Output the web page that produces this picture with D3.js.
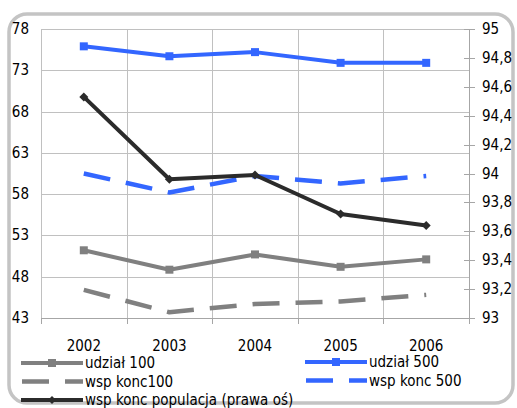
<!DOCTYPE html>
<html>
<head>
<meta charset="utf-8">
<script src="https://cdn.jsdelivr.net/npm/d3@7"></script>
<style>
  html, body { margin: 0; padding: 0; background: #fff; }
  svg text { font-family: "DejaVu Sans Condensed", "DejaVu Sans", sans-serif; font-stretch: condensed; fill: #000; }
</style>
</head>
<body>
<svg id="chart" width="517" height="408"></svg>
<script>
// ---- data ----
const years = ["2002", "2003", "2004", "2005", "2006"];
const udzial100 = [51.2, 48.85, 50.7, 49.2, 50.1];
const wspKonc100 = [46.4, 43.7, 44.7, 45.0, 45.8];
const udzial500 = [75.9, 74.7, 75.2, 73.9, 73.9];
const wspKonc500 = [60.5, 58.2, 60.2, 59.3, 60.2];
const wspKoncPopulacja = [94.53, 93.96, 93.99, 93.72, 93.64];
const leftTicks = [43, 48, 53, 58, 63, 68, 73, 78];
const rightTicks = [93, 93.2, 93.4, 93.6, 93.8, 94, 94.2, 94.4, 94.6, 94.8, 95];
const seriesNames = ["udział 100", "wsp konc100", "wsp konc populacja (prawa oś)", "udział 500", "wsp konc 500"];

const BLUE = "#3366ff", GRAY = "#808080", BLACK = "#2b2b2b";

const svg = d3.select("#chart");

// frame
svg.append("rect").attr("x", 9).attr("y", 14).attr("width", 504).attr("height", 389)
  .attr("rx", 18).attr("fill", "none").attr("stroke", "#c4c4c4").attr("stroke-width", 3.5);

const L = 41, R = 469, T = 29, B = 318;
const x = d3.scaleBand().domain(years).range([L, R]).padding(0);
const cx = d => x(d) + x.bandwidth() / 2;
const yL = d3.scaleLinear().domain([43, 78]).range([B, T]);
const yR = d3.scaleLinear().domain([93, 95]).range([B, T]);

const fmtR = v => d3.format("")(+v.toFixed(1)).replace(".", ",");

// gridlines horizontal
svg.append("g").selectAll("line").data(leftTicks).join("line")
  .attr("x1", L).attr("x2", R).attr("y1", d => Math.round(yL(d)) + 0.5).attr("y2", d => Math.round(yL(d)) + 0.5)
  .attr("stroke", "#c0c0c0").attr("stroke-width", 1);
// gridlines vertical (category boundaries)
const bounds = years.map(d => x(d)).concat([R]);
svg.append("g").selectAll("line").data(bounds).join("line")
  .attr("x1", d => Math.round(d) + 0.5).attr("x2", d => Math.round(d) + 0.5)
  .attr("y1", T).attr("y2", B)
  .attr("stroke", "#c0c0c0").attr("stroke-width", 1);

// bottom axis line + ticks
svg.append("line").attr("x1", L).attr("x2", R).attr("y1", B + 0.5).attr("y2", B + 0.5)
  .attr("stroke", "#a6a6a6");
svg.append("g").selectAll("line").data(bounds).join("line")
  .attr("x1", d => Math.round(d) + 0.5).attr("x2", d => Math.round(d) + 0.5)
  .attr("y1", B).attr("y2", B + 6).attr("stroke", "#a6a6a6");
// right axis line
svg.append("line").attr("x1", R + 0.5).attr("x2", R + 0.5).attr("y1", T).attr("y2", B + 6)
  .attr("stroke", "#a6a6a6");
svg.append("g").selectAll("line").data(rightTicks).join("line")
  .attr("x1", R - 5).attr("x2", R + 6)
  .attr("y1", d => Math.round(yR(d)) + 0.5).attr("y2", d => Math.round(yR(d)) + 0.5)
  .attr("stroke", "#a6a6a6");

// axis labels
svg.append("g").selectAll("text").data(leftTicks).join("text")
  .attr("x", 29).attr("y", d => yL(d)).attr("text-anchor", "end")
  .attr("dominant-baseline", "central").attr("font-size", 15).text(d => d);
svg.append("g").selectAll("text").data(rightTicks).join("text")
  .attr("x", 482).attr("y", d => yR(d)).attr("text-anchor", "start")
  .attr("dominant-baseline", "central").attr("font-size", 15).text(d => fmtR(d));
svg.append("g").selectAll("text").data(years).join("text")
  .attr("x", d => cx(d)).attr("y", 346).attr("text-anchor", "middle")
  .attr("dominant-baseline", "central").attr("font-size", 15).text(d => d);

// series
function lineFor(vals, scale) {
  return d3.line().x((v, i) => cx(years[i])).y(v => scale(v))(vals);
}
function drawLine(vals, scale, color, dashed) {
  const p = svg.append("path").attr("d", lineFor(vals, scale)).attr("fill", "none")
    .attr("stroke", color).attr("stroke-width", dashed ? 4.5 : 4).attr("stroke-linejoin", "round");
  if (dashed) p.attr("stroke-dasharray", "27,16").attr("stroke-linecap", "butt");
}
function squares(vals, scale, color, s) {
  svg.append("g").selectAll("rect").data(vals).join("rect")
    .attr("x", (v, i) => cx(years[i]) - s / 2).attr("y", v => scale(v) - s / 2)
    .attr("width", s).attr("height", s).attr("fill", color);
}
function diamonds(vals, scale, color, s) {
  svg.append("g").selectAll("path").data(vals).join("path")
    .attr("d", (v, i) => {
      const X = cx(years[i]), Y = scale(v);
      return `M${X},${Y - s}L${X + s},${Y}L${X},${Y + s}L${X - s},${Y}Z`;
    }).attr("fill", color);
}

drawLine(wspKonc100, yL, GRAY, true);
drawLine(udzial100, yL, GRAY, false);
squares(udzial100, yL, GRAY, 8);
drawLine(wspKonc500, yL, BLUE, true);
drawLine(udzial500, yL, BLUE, false);
squares(udzial500, yL, BLUE, 8);
drawLine(wspKoncPopulacja, yR, BLACK, false);
diamonds(wspKoncPopulacja, yR, BLACK, 4.5);

// legend
const legend = [
  { name: seriesNames[0], color: GRAY, dashed: false, marker: "square", x: 21, y: 363 },
  { name: seriesNames[1], color: GRAY, dashed: true, marker: null, x: 21, y: 381.5 },
  { name: seriesNames[2], color: BLACK, dashed: false, marker: "diamond", x: 21, y: 400 },
  { name: seriesNames[3], color: BLUE, dashed: false, marker: "square", x: 305, y: 362 },
  { name: seriesNames[4], color: BLUE, dashed: true, marker: null, x: 305, y: 380.5 }
];
const lg = svg.append("g").selectAll("g").data(legend).join("g");
lg.append("line")
  .attr("x1", d => d.x + (d.dashed ? 1 : 0)).attr("x2", d => d.x + 62)
  .attr("y1", d => d.y).attr("y2", d => d.y)
  .attr("stroke", d => d.color).attr("stroke-width", d => d.dashed ? 4.5 : 4)
  .attr("stroke-dasharray", d => d.dashed ? "27,16" : null);
lg.filter(d => d.marker === "square").append("rect")
  .attr("x", d => d.x + 31 - 4).attr("y", d => d.y - 4).attr("width", 8).attr("height", 8)
  .attr("fill", d => d.color);
lg.filter(d => d.marker === "diamond").append("path")
  .attr("d", d => { const X = d.x + 31, Y = d.y, s = 4; return `M${X},${Y - s}L${X + s},${Y}L${X},${Y + s}L${X - s},${Y}Z`; })
  .attr("fill", d => d.color);
lg.append("text").attr("x", d => d.x + 64).attr("y", d => d.y)
  .attr("dominant-baseline", "central").attr("font-size", 15).text(d => d.name);
</script>
</body>
</html>
